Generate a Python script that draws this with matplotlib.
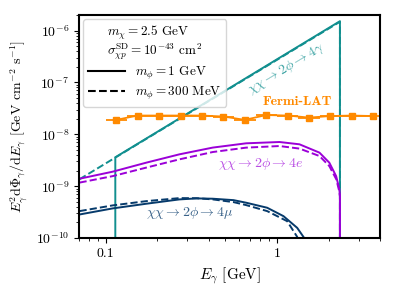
import matplotlib
matplotlib.use('Agg')
import matplotlib.pyplot as plt
from matplotlib.ticker import NullFormatter
import numpy as np

# --- data ---
# chi chi -> 2 phi -> 4 gamma (box spectrum)
gam_E_solid = [0.114, 0.114, 2.33, 2.33]
gam_F_solid = [1e-12, 3.6e-9, 1.52e-6, 1e-12]
gam_E_dash = [0.0705, 2.33, 2.33]
gam_F_dash = [1.36e-9, 1.48e-6, 1e-12]

# chi chi -> 2 phi -> 4e
ee_E_solid = [0.0705, 0.110, 0.173, 0.270, 0.422, 0.661, 1.034, 1.353, 1.77, 2.02, 2.214, 2.314, 2.33, 2.33]
ee_F_solid = [1.39e-9, 1.90e-9, 2.84e-9, 4.11e-9, 5.54e-9, 6.70e-9, 7.10e-9, 6.41e-9, 4.43e-9, 2.84e-9, 1.56e-9, 8.65e-10, 6.5e-10, 1e-12]
ee_E_dash = [0.0705, 0.110, 0.173, 0.270, 0.422, 0.661, 1.034, 1.353, 1.77, 2.02, 2.22, 2.31, 2.33, 2.33]
ee_F_dash = [1.17e-9, 1.56e-9, 2.28e-9, 3.29e-9, 4.55e-9, 5.53e-9, 5.94e-9, 5.30e-9, 3.81e-9, 2.44e-9, 1.35e-9, 7.9e-10, 6.3e-10, 1e-12]

# chi chi -> 2 phi -> 4 mu
mu_E_solid = [0.0705, 0.110, 0.173, 0.270, 0.34, 0.422, 0.558, 0.661, 0.877, 1.091, 1.312, 1.433, 1.46]
mu_F_solid = [2.84e-10, 3.72e-10, 4.58e-10, 5.55e-10, 5.8e-10, 5.72e-10, 5.37e-10, 4.79e-10, 3.83e-10, 2.64e-10, 1.57e-10, 1.03e-10, 7e-11]
mu_E_dash = [0.0705, 0.110, 0.173, 0.270, 0.34, 0.422, 0.558, 0.661, 0.877, 1.147, 1.312, 1.33]
mu_F_dash = [3.30e-10, 4.25e-10, 5.14e-10, 5.88e-10, 5.85e-10, 5.55e-10, 4.92e-10, 4.31e-10, 3.30e-10, 2.11e-10, 1.05e-10, 7e-11]

# Fermi-LAT
fermi_E = [0.1155, 0.154, 0.205, 0.274, 0.365, 0.487, 0.649, 0.866, 1.155, 1.54, 2.05, 2.74, 3.65]
fermi_lo = [0.100, 0.1334, 0.178, 0.237, 0.316, 0.422, 0.562, 0.750, 1.000, 1.334, 1.78, 2.37, 3.16]
fermi_hi = [0.1334, 0.178, 0.237, 0.316, 0.422, 0.562, 0.750, 1.000, 1.334, 1.78, 2.37, 3.16, 4.22]
fermi_F = [1.9e-8, 2.3e-8, 2.3e-8, 2.3e-8, 2.3e-8, 2.2e-8, 1.9e-8, 2.35e-8, 2.3e-8, 2.1e-8, 2.25e-8, 2.3e-8, 2.25e-8]

teal = '#118f8f'
violet = '#9b00d8'
navy = '#063a6b'
orange = '#ff8a00'

plt.rcParams['font.family'] = 'serif'
plt.rcParams['font.serif'] = ['cmr10']
plt.rcParams['mathtext.fontset'] = 'cm'
plt.rcParams['axes.unicode_minus'] = False
plt.rcParams['axes.formatter.use_mathtext'] = True

fig = plt.figure(figsize=(3.96, 2.97), dpi=100)
ax = fig.add_axes([0.1995, 0.1987, 0.7605, 0.7508])

ax.plot(gam_E_solid, gam_F_solid, '-', color=teal, lw=1.4)
ax.plot(gam_E_dash, gam_F_dash, '--', color=teal, lw=1.4)
ax.plot(ee_E_solid, ee_F_solid, '-', color=violet, lw=1.4)
ax.plot(ee_E_dash, ee_F_dash, '--', color=violet, lw=1.4)
ax.plot(mu_E_solid, mu_F_solid, '-', color=navy, lw=1.4)
ax.plot(mu_E_dash, mu_F_dash, '--', color=navy, lw=1.4)

xerr = [np.array(fermi_E) - np.array(fermi_lo), np.array(fermi_hi) - np.array(fermi_E)]
ax.errorbar(fermi_E, fermi_F, xerr=xerr, fmt='-s', color=orange, ms=4.5, lw=1.3, capsize=0)

# legend entries
ax.plot([], [], '-', color='k', lw=1.5, label=r'$m_\phi = 1$ GeV')
ax.plot([], [], '--', color='k', lw=1.5, label=r'$m_\phi = 300$ MeV')
leg = ax.legend(loc='upper left', fontsize=9.5, title_fontsize=9.5,
                title=r'$m_\chi = 2.5$ GeV' + '\n' + r'$\sigma^{\rm SD}_{\chi p} = 10^{-43}$ cm$^2$',
                handlelength=2.8, borderaxespad=0.3, labelspacing=0.2, borderpad=0.35)
leg.get_title().set_linespacing(1.0)

ax.text(1.136, 1.8e-7, r'$\chi\chi\rightarrow 2\phi\rightarrow 4\gamma$', color=teal, alpha=0.8,
        fontsize=10, rotation=31, ha='center', va='center', rotation_mode='anchor')
ax.text(0.80, 2.63e-9, r'$\chi\chi\rightarrow 2\phi\rightarrow 4e$', color=violet, alpha=0.7,
        fontsize=10, ha='center', va='center')
ax.text(0.307, 2.97e-10, r'$\chi\chi\rightarrow 2\phi\rightarrow 4\mu$', color=navy, alpha=0.8,
        fontsize=10, ha='center', va='center')
ax.text(1.31, 4.2e-8, 'Fermi-LAT', color=orange, fontsize=10, ha='center', va='center',
        fontfamily='cmb10')

ax.set_xscale('log')
ax.set_yscale('log')
ax.set_xlim(0.07, 4)
ax.set_ylim(1e-10, 2e-6)
ax.set_xticks([0.1, 1])
ax.set_xticklabels(['0.1', '1'])
ax.xaxis.set_minor_formatter(NullFormatter())
ax.yaxis.set_minor_formatter(NullFormatter())
ax.tick_params(labelsize=10)
for s in ax.spines.values():
    s.set_linewidth(1.5)
ax.set_xlabel(r'$E_\gamma$ [GeV]', fontsize=11)
ax.set_ylabel(r'$E_\gamma^2{\rm d}\Phi_\gamma/{\rm d}E_\gamma$ [GeV cm$^{-2}$ s$^{-1}$]', fontsize=10)

fig.savefig('out.png', dpi=100)
